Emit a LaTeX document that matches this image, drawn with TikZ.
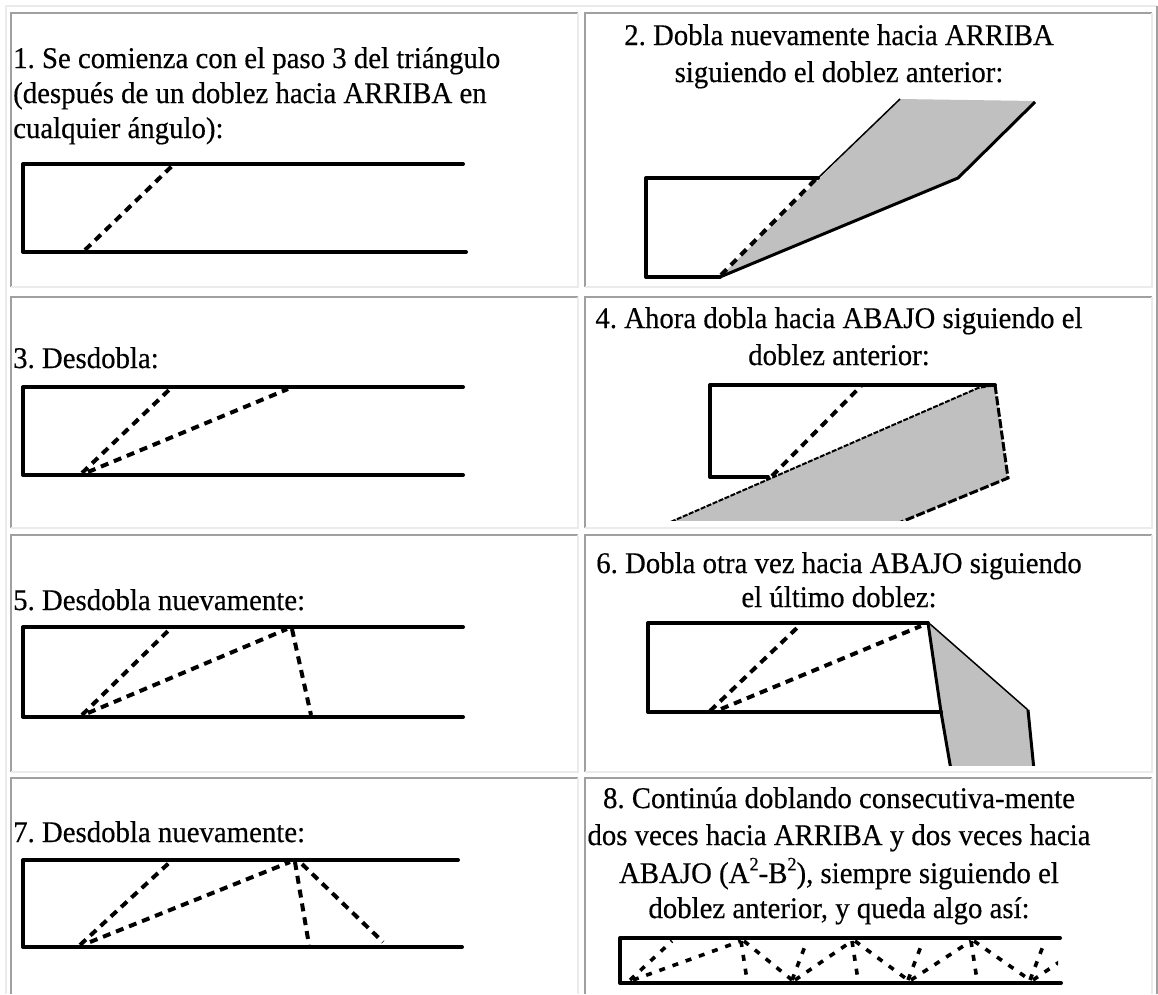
\documentclass[tikz,border=0pt]{standalone}
\usepackage{fontspec}
\setmainfont{Liberation Serif}[FakeBold=0.4, FakeStretch=0.96]
\definecolor{rimdark}{HTML}{A0A0A0}
\definecolor{rimlight}{HTML}{EBEBEB}
\definecolor{flapgray}{HTML}{C0C0C0}
\frenchspacing
\newcommand{\sqmark}{\raisebox{0.42em}{\fontsize{19}{19}\selectfont 2}}
\begin{document}
\begin{tikzpicture}[x=1pt,y=-1pt,
  lbl/.style={inner sep=0pt, font=\fontsize{30}{36}\selectfont},
  rimD/.style={draw=rimdark, line width=2pt},
  rimL/.style={draw=rimlight, line width=2pt},
  paper/.style={line width=4pt, line cap=round, line join=round},
  crease/.style={line width=4pt, dash pattern=on 8pt off 6pt},
  tinycrease/.style={line width=3.6pt, dash pattern=on 6pt off 8pt},
  edgethin/.style={line width=1.5pt},
  edgethick/.style={line width=3pt, line join=round},
  edgefine/.style={line width=2pt, dash pattern=on 5pt off 1.5pt},
  edgedash/.style={line width=3pt, dash pattern=on 9pt off 2.5pt}]
\useasboundingbox (0,0) rectangle (1158,994);
\fill[white] (0,0) rectangle (1158,994);

% table frame
\draw[rimL] (5.5,994) -- (5.5,6) -- (1157,6);
\draw[rimD] (1157,6) -- (1157,994);
% cells: dark on top/left, light on bottom/right
\draw[rimD] (11,287) -- (11,13) -- (578,13);
\draw[rimL] (578,13) -- (578,287) -- (11,287);
\draw[rimD] (585,287) -- (585,13) -- (1152,13);
\draw[rimL] (1152,13) -- (1152,287) -- (585,287);
\draw[rimD] (11,528) -- (11,297) -- (578,297);
\draw[rimL] (578,297) -- (578,528) -- (11,528);
\draw[rimD] (585,528) -- (585,297) -- (1152,297);
\draw[rimL] (1152,297) -- (1152,528) -- (585,528);
\draw[rimD] (11,772) -- (11,535) -- (578,535);
\draw[rimL] (578,535) -- (578,772) -- (11,772);
\draw[rimD] (585,772) -- (585,535) -- (1152,535);
\draw[rimL] (1152,535) -- (1152,772) -- (585,772);
\draw[rimD] (11,994) -- (11,778) -- (578,778);
\draw[rimL] (578,778) -- (578,994);
\draw[rimD] (585,994) -- (585,778) -- (1152,778);
\draw[rimL] (1152,778) -- (1152,994);

% step texts
\node[lbl, anchor=base west] (s1a) at (13,68) {1. Se comienza con el paso 3 del triángulo};
\node[lbl, anchor=base west] (s1b) at (13,103) {(después de un doblez hacia ARRIBA en};
\node[lbl, anchor=base west] (s1c) at (13,138) {cualquier ángulo):};
\node[lbl, anchor=base] (s2a) at (839,45) {2. Dobla nuevamente hacia ARRIBA};
\node[lbl, anchor=base] (s2b) at (839,82) {siguiendo el doblez anterior:};
\node[lbl, anchor=base west] (s3) at (13,368) {3. Desdobla:};
\node[lbl, anchor=base] (s4a) at (839,328) {4. Ahora dobla hacia ABAJO siguiendo el};
\node[lbl, anchor=base] (s4b) at (839,365) {doblez anterior:};
\node[lbl, anchor=base west] (s5) at (13,610) {5. Desdobla nuevamente:};
\node[lbl, anchor=base] (s6a) at (839,573) {6. Dobla otra vez hacia ABAJO siguiendo};
\node[lbl, anchor=base] (s6b) at (839,607) {el último doblez:};
\node[lbl, anchor=base west] (s7) at (13,842) {7. Desdobla nuevamente:};
\node[lbl, anchor=base] (s8a) at (839,808) {8. Continúa doblando consecutiva-mente};
\node[lbl, anchor=base] (s8b) at (839,845) {dos veces hacia ARRIBA y dos veces hacia};
\node[lbl, anchor=base] (s8c) at (839,883) {ABAJO (A\sqmark-B\sqmark), siempre siguiendo el};
\node[lbl, anchor=base] (s8d) at (839,918) {doblez anterior, y queda algo así:};

% step 1: strip with the first crease
\draw[paper] (463,164) -- (23,164) -- (23,252) -- (466,252);
\draw[crease] (85,250) -- (172,166);

% step 2: flap folded up again
\fill[flapgray] (720,277) -- (900,99) -- (1035,101) -- (958,178) -- cycle;
\draw[paper] (818,178) -- (646,178) -- (646,277) -- (720,277);
\draw[crease] (721,275) -- (816,179);
\draw[edgethin] (816,180) -- (900,99);
\draw[edgethick] (1035,102) -- (958,178) -- (720,277);

% step 3: unfolded, two creases
\draw[paper] (463,387) -- (23,387) -- (23,475) -- (463,475);
\draw[crease] (82,473) -- (170,389);
\draw[crease] (88,472) -- (288,389);

% step 4: flap folded down
\begin{scope}
\clip (586,298) rectangle (1150,520);
\fill[flapgray] (659,527) -- (978,388) -- (995,385) -- (1008,478) -- (889,527) -- cycle;
\draw[paper] (768,477) -- (710,477) -- (710,385) -- (995,385);
\draw[crease] (772,476) -- (861,386);
\draw[edgefine] (659,527) -- (978,388) -- (995,385);
\draw[edgedash] (995,385) -- (1008,478) -- (889,527);
\end{scope}

% step 5: unfolded, three creases
\draw[paper] (463,627) -- (23,627) -- (23,717) -- (463,717);
\draw[crease] (82,715) -- (170,629);
\draw[crease] (88,713) -- (287,629);
\draw[crease] (292,629) -- (311,715);

% step 6: flap folded down again
\begin{scope}
\clip (586,536) rectangle (1150,765);
\fill[flapgray] (928,623) -- (1028,710) -- (1034,770) -- (951,770) -- (941,712) -- cycle;
\draw[paper] (928,623) -- (648,623) -- (648,712) -- (941,712);
\draw[crease] (710,711) -- (800,625);
\draw[crease] (721,709) -- (921,626);
\draw[edgethin] (930,624) -- (1028,710);
\draw[edgethick] (1028,710) -- (1034,770);
\draw[edgethick] (928,623) -- (941,712) -- (951,770);
\end{scope}

% step 7: unfolded, four creases
\draw[paper] (458,860) -- (23,860) -- (23,947) -- (462,947);
\draw[crease] (80,945) -- (170,862);
\draw[crease] (90,942) -- (290,862);
\draw[crease] (295,862) -- (309,945);
\draw[crease] (302,864) -- (383,942);

% step 8: repeated crease pattern
\draw[paper] (1060,938) -- (620,938) -- (620,983) -- (1061,983);
\begin{scope}
\clip (622,940) rectangle (1058,981);
\draw[tinycrease] (630,980) -- (672,941);
\draw[tinycrease] (633,980) -- (741,941);
\draw[tinycrease] (741,941) -- (747,980);
\draw[tinycrease] (744,941) -- (792,980);
\draw[tinycrease] (792,980) -- (807,941);
\draw[tinycrease] (795,980) -- (852,941);
\draw[tinycrease] (852,941) -- (858,980);
\draw[tinycrease] (855,941) -- (908,980);
\draw[tinycrease] (908,980) -- (923,941);
\draw[tinycrease] (911,980) -- (971,941);
\draw[tinycrease] (971,941) -- (977,980);
\draw[tinycrease] (974,941) -- (1030,980);
\draw[tinycrease] (1030,980) -- (1045,941);
\draw[tinycrease] (1033,980) -- (1090,941);
\end{scope}
\end{tikzpicture}
\end{document}
